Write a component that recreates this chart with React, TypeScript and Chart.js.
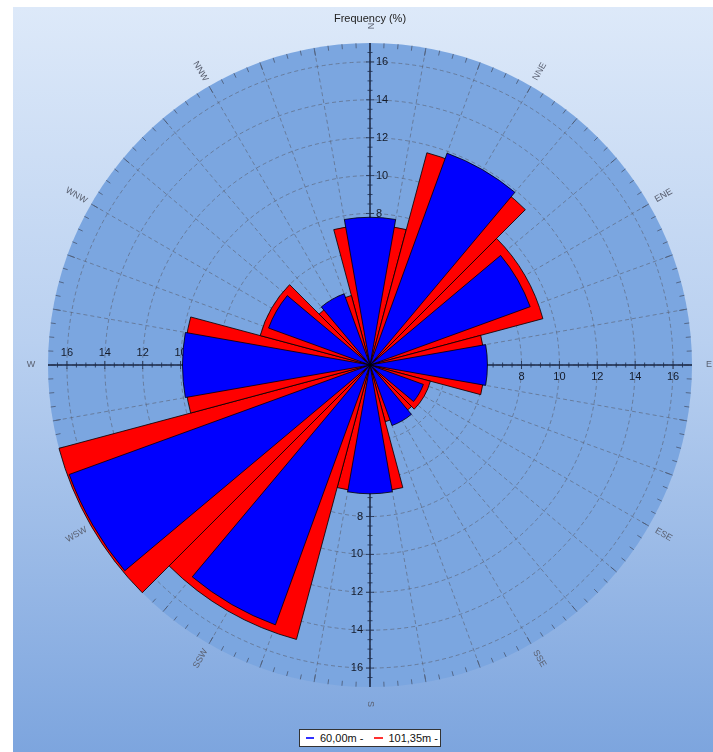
import React, { useEffect, useRef } from 'react';
import { Chart, registerables } from 'chart.js';

Chart.register(...registerables);

// ---- data ----
const directions = ['N', 'NNE', 'ENE', 'E', 'ESE', 'SSE', 'S', 'SSW', 'WSW', 'W', 'WNW', 'NNW'];
const directionAngles = [0, 30, 60, 90, 120, 150, 180, 210, 240, 270, 300, 330];
const freq60m = [7.8, 11.9, 9.0, 6.2, 3.0, 3.4, 6.8, 14.6, 16.9, 9.9, 5.7, 4.0];
const freq101m = [7.4, 11.6, 9.45, 6.05, 3.3, 3.1, 6.7, 15.0, 17.0, 9.8, 6.0, 3.8];
const axisTickValues = [2, 4, 6, 8, 10, 12, 14, 16];
const gridAngleLabels = [
  '0', '10', '20', '30', '40', '50', '60', '70', '80', '90', '100', '110',
  '120', '130', '140', '150', '160', '170', '180', '190', '200', '210', '220', '230',
  '240', '250', '260', '270', '280', '290', '300', '310', '320', '330', '340', '350',
];
const seriesNames = ['60,00m -', '101,35m -'];
const titleText = 'Frequency (%)';
const axisMax = 17;

// ---- style ----
const BLUE = '#0000ff';
const RED = '#ff0000';
const GRID = 'rgba(92,102,122,0.65)';
const FONT = '"Liberation Sans", Arial, sans-serif';
const SECTOR_DEG = 30;
const BLUE_DEG = 20;
const RED_DEG = 30;
const START_DEG = -20;

// blue sectors: gap, sector, gap, sector ... (starting at -20deg)
const blueData: number[] = [];
const blueAngles: number[] = [];
freq60m.forEach((v) => {
  blueData.push(0);
  blueAngles.push(SECTOR_DEG - BLUE_DEG);
  blueData.push(v);
  blueAngles.push(BLUE_DEG);
});
// red sectors: first a 5deg gap, then full 30deg sectors
const redData: number[] = [0, ...freq101m];
const redAngles: number[] = [5, ...freq101m.map(() => RED_DEG)];

const decorPlugin = {
  id: 'windRoseDecor',
  beforeDatasetsDraw(chart: any) {
    const s = chart.scales.r;
    const ctx = chart.ctx;
    const cx = s.xCenter;
    const cy = s.yCenter;
    const R = s.drawingArea;
    ctx.save();
    // rim ticks every 2.5 deg
    ctx.strokeStyle = 'rgba(70,82,105,0.75)';
    ctx.lineWidth = 1;
    for (let k = 0; k < 144; k++) {
      const a = (k * 2.5 * Math.PI) / 180;
      const len = k % 4 === 0 ? 8 : 5;
      const sx = Math.sin(a);
      const sy = -Math.cos(a);
      ctx.beginPath();
      ctx.moveTo(cx + sx * R, cy + sy * R);
      ctx.lineTo(cx + sx * (R - len), cy + sy * (R - len));
      ctx.stroke();
    }
    // axes
    ctx.strokeStyle = '#1c2a48';
    ctx.lineWidth = 1.5;
    ctx.beginPath();
    ctx.moveTo(cx, cy - R);
    ctx.lineTo(cx, cy + R);
    ctx.moveTo(cx - R, cy);
    ctx.lineTo(cx + R, cy);
    ctx.stroke();
    // minor ticks along axes
    ctx.lineWidth = 1;
    ctx.strokeStyle = 'rgba(28,42,72,0.8)';
    for (let v = 0.5; v < axisMax; v += 0.5) {
      const d = s.getDistanceFromCenterForValue(v);
      const t = Number.isInteger(v / 2) ? 4 : 2.5;
      ctx.beginPath();
      ctx.moveTo(cx - t, cy - d); ctx.lineTo(cx + t, cy - d);
      ctx.moveTo(cx - t, cy + d); ctx.lineTo(cx + t, cy + d);
      ctx.moveTo(cx + d, cy - t); ctx.lineTo(cx + d, cy + t);
      ctx.moveTo(cx - d, cy - t); ctx.lineTo(cx - d, cy + t);
      ctx.stroke();
    }
    // axis labels
    ctx.fillStyle = '#141a28';
    ctx.font = '11px ' + FONT;
    axisTickValues.forEach((v) => {
      const d = s.getDistanceFromCenterForValue(v);
      const txt = String(v);
      ctx.textBaseline = 'middle';
      ctx.textAlign = 'left';
      ctx.fillText(txt, cx + 6, cy - d);
      ctx.textAlign = 'right';
      ctx.fillText(txt, cx - 7, cy + d);
      ctx.textAlign = 'center';
      ctx.fillText(txt, cx + d, cy + 12);
      ctx.fillText(txt, cx - d, cy - 12);
    });
    ctx.restore();
  },
  afterDraw(chart: any) {
    const s = chart.scales.r;
    const ctx = chart.ctx;
    const cx = s.xCenter;
    const cy = s.yCenter;
    const R = s.drawingArea + 17;
    ctx.save();
    ctx.fillStyle = '#222';
    ctx.font = '11px ' + FONT;
    ctx.textAlign = 'center';
    ctx.textBaseline = 'middle';
    ctx.fillText(titleText, cx, 19);
    ctx.fillStyle = '#5a6070';
    ctx.font = '9px ' + FONT;
    directions.forEach((name, i) => {
      const deg = directionAngles[i];
      const a = (deg * Math.PI) / 180;
      const x = cx + Math.sin(a) * R;
      const y = cy - Math.cos(a) * R;
      let rot = deg <= 180 ? deg - 90 : deg - 270;
      if (deg === 0) rot = 90;
      ctx.save();
      ctx.translate(x, y);
      ctx.rotate((rot * Math.PI) / 180);
      ctx.fillText(name, 0, 0);
      ctx.restore();
    });
    ctx.restore();
  },
};

export default function App() {
  const canvasRef = useRef<HTMLCanvasElement | null>(null);

  useEffect(() => {
    const canvas = canvasRef.current;
    if (!canvas) return;
    const chart = new Chart(canvas, {
      type: 'polarArea',
      data: {
        labels: gridAngleLabels,
        datasets: [
          {
            label: seriesNames[0],
            data: blueData,
            angle: (c: any) => blueAngles[c.dataIndex],
            backgroundColor: (c: any) => (c.dataIndex % 2 === 1 ? BLUE : 'rgba(0,0,0,0)'),
            borderColor: '#000',
            borderWidth: (c: any) => (c.dataIndex % 2 === 1 ? 0.8 : 0),
          } as any,
          {
            label: seriesNames[1],
            data: redData,
            angle: (c: any) => redAngles[c.dataIndex],
            backgroundColor: (c: any) => (c.dataIndex === 0 ? 'rgba(0,0,0,0)' : RED),
            borderColor: '#000',
            borderWidth: (c: any) => (c.dataIndex === 0 ? 0 : 0.8),
          } as any,
        ],
      },
      options: {
        responsive: false,
        animation: false,
        layout: { padding: { left: 48, right: 21, top: 43, bottom: 65 } },
        plugins: {
          legend: { display: false },
          tooltip: { enabled: false },
          title: { display: false },
        },
        scales: {
          r: {
            min: 0,
            max: axisMax,
            startAngle: START_DEG,
            backgroundColor: '#7ba6e0',
            ticks: { display: false, stepSize: 2 },
            pointLabels: { display: false },
            grid: {
              circular: true,
              lineWidth: 1,
              color: (c: any) => (c.tick && c.tick.value >= axisMax ? 'rgba(0,0,0,0)' : GRID),
            },
            border: { dash: [4, 3] },
            angleLines: {
              display: true,
              color: GRID,
              lineWidth: 1,
              borderDash: [4, 3],
            },
          } as any,
        },
      } as any,
      plugins: [decorPlugin],
    });
    return () => chart.destroy();
  }, []);

  return (
    <div style={{ position: 'absolute', left: 0, top: 0, width: 713, height: 752, background: '#fff', overflow: 'hidden' }}>
      <div
        style={{
          position: 'absolute',
          left: 13,
          top: 7,
          width: 700,
          height: 745,
          background: 'linear-gradient(180deg, #dde9f9 0%, #b9d0f0 45%, #7da5de 100%)',
        }}
      />
      <canvas
        ref={canvasRef}
        width={713}
        height={752}
        style={{ position: 'absolute', left: 0, top: 0, width: 713, height: 752 }}
      />
      <div
        style={{
          position: 'absolute',
          left: 299,
          top: 729,
          width: 142,
          height: 18,
          boxSizing: 'border-box',
          border: '1px solid #333',
          background: '#fff',
          display: 'flex',
          alignItems: 'center',
          fontFamily: FONT,
          fontSize: 11,
          color: '#111',
          paddingLeft: 6,
          whiteSpace: 'nowrap',
        }}
      >
        <span style={{ display: 'inline-block', width: 8, height: 1.5, background: '#3030ff', marginRight: 6 }} />
        <span>{seriesNames[0]}</span>
        <span style={{ display: 'inline-block', width: 9, height: 1.5, background: '#ff3030', marginLeft: 11, marginRight: 5 }} />
        <span>{seriesNames[1]}</span>
      </div>
    </div>
  );
}
